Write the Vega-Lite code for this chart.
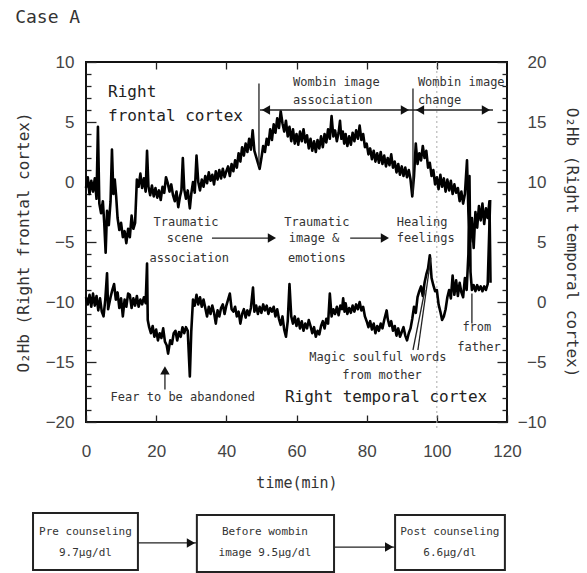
{
"$schema": "https://vega.github.io/schema/vega-lite/v6.json",
"width": 421, "height": 360,
"autosize": {"type": "none"},
"padding": {"left": 86, "top": 62, "right": 80, "bottom": 151},
"background": "white",
"title": {"text": "Case A", "anchor": "start", "frame": "bounds", "font": "DejaVu Sans Mono", "fontSize": 18, "fontWeight": "normal", "color": "#333", "offset": 26},
"config": {
  "view": {"stroke": "#111", "strokeWidth": 2},
  "axis": {"domain": false, "grid": false, "tickColor": "#222", "tickWidth": 1.3, "labelOverlap": false, "labelFlush": false}
},
"datasets": {
"frontal": [
{"t":0,"v":-0.5},{"t":0.5,"v":0.4},{"t":1,"v":-1.0},{"t":1.5,"v":0.1},{"t":2,"v":-0.8},{"t":2.5,"v":0.3},{"t":3,"v":-1.4},{"t":3.4,"v":4.6},{"t":3.8,"v":-1.8},{"t":4.3,"v":-2.6},{"t":4.8,"v":-1.6},{"t":5.2,"v":-3.4},{"t":5.6,"v":-5.9},{"t":6,"v":-2.4},{"t":6.5,"v":-3.6},{"t":7,"v":-1.6},{"t":7.4,"v":2.7},{"t":7.8,"v":-1.0},{"t":8.2,"v":0.2},{"t":8.6,"v":-1.2},{"t":9,"v":-3.0},{"t":9.5,"v":-4.0},{"t":10,"v":-3.4},{"t":10.5,"v":-4.6},{"t":11,"v":-4.1},{"t":11.5,"v":-5.1},{"t":12,"v":-3.9},{"t":12.5,"v":-4.6},{"t":13,"v":-2.8},{"t":13.5,"v":-3.9},{"t":14,"v":-3.4},{"t":14.5,"v":0.2},{"t":15,"v":-0.4},{"t":15.5,"v":0.7},{"t":16,"v":-0.5},{"t":16.5,"v":0.3},{"t":17,"v":-0.8},{"t":17.4,"v":2.6},{"t":17.8,"v":-0.4},{"t":18.3,"v":-1.1},{"t":18.8,"v":-0.3},{"t":19.3,"v":-1.2},{"t":19.8,"v":-0.5},{"t":20.3,"v":-1.3},{"t":20.8,"v":-0.7},{"t":21.3,"v":-1.5},{"t":21.8,"v":-0.4},{"t":22.3,"v":-0.9},{"t":22.8,"v":0.4},{"t":23.3,"v":-0.1},{"t":23.8,"v":-0.8},{"t":24.3,"v":-0.2},{"t":24.8,"v":-1.1},{"t":25.3,"v":-1.6},{"t":25.8,"v":-0.8},{"t":26.3,"v":-2.1},{"t":26.8,"v":-1.2},{"t":27.2,"v":-0.7},{"t":27.6,"v":2.0},{"t":28,"v":-0.6},{"t":28.5,"v":-1.4},{"t":29,"v":-0.7},{"t":29.6,"v":-2.2},{"t":30,"v":-1.0},{"t":30.5,"v":0.0},{"t":31,"v":-0.9},{"t":31.5,"v":2.2},{"t":32,"v":0.0},{"t":32.5,"v":-0.7},{"t":33,"v":0.2},{"t":33.5,"v":-0.4},{"t":34,"v":0.5},{"t":34.5,"v":-0.1},{"t":35,"v":0.8},{"t":35.5,"v":0.1},{"t":36,"v":0.6},{"t":36.5,"v":-0.2},{"t":37,"v":0.9},{"t":37.5,"v":0.2},{"t":38,"v":1.0},{"t":38.5,"v":0.3},{"t":39,"v":1.1},{"t":39.5,"v":0.4},{"t":40,"v":0.9},{"t":40.5,"v":1.3},{"t":41,"v":0.5},{"t":41.5,"v":1.5},{"t":42,"v":0.9},{"t":42.5,"v":1.8},{"t":43,"v":1.2},{"t":43.5,"v":2.4},{"t":44,"v":1.7},{"t":44.5,"v":2.9},{"t":45,"v":2.2},{"t":45.5,"v":3.2},{"t":46,"v":2.5},{"t":46.5,"v":3.6},{"t":47,"v":2.7},{"t":47.5,"v":4.3},{"t":48,"v":2.6},{"t":48.5,"v":2.1},{"t":49,"v":1.6},{"t":49.5,"v":1.1},{"t":50,"v":2.0},{"t":50.5,"v":3.0},{"t":51,"v":2.5},{"t":51.5,"v":3.6},{"t":52,"v":3.1},{"t":52.5,"v":4.4},{"t":53,"v":3.5},{"t":53.5,"v":4.8},{"t":54,"v":4.1},{"t":54.5,"v":5.3},{"t":55,"v":4.5},{"t":55.5,"v":5.9},{"t":56,"v":4.9},{"t":56.5,"v":4.2},{"t":57,"v":5.1},{"t":57.5,"v":3.8},{"t":58,"v":4.6},{"t":58.5,"v":3.4},{"t":59,"v":4.4},{"t":59.5,"v":3.2},{"t":60,"v":4.0},{"t":60.5,"v":3.1},{"t":61,"v":4.2},{"t":61.5,"v":3.4},{"t":62,"v":4.4},{"t":62.5,"v":3.3},{"t":63,"v":3.9},{"t":63.5,"v":2.8},{"t":64,"v":3.6},{"t":64.5,"v":2.6},{"t":65,"v":3.4},{"t":65.5,"v":2.5},{"t":66,"v":3.5},{"t":66.5,"v":2.8},{"t":67,"v":3.8},{"t":67.5,"v":2.9},{"t":68,"v":4.0},{"t":68.5,"v":3.3},{"t":69,"v":4.4},{"t":69.5,"v":3.6},{"t":70,"v":5.5},{"t":70.5,"v":3.8},{"t":71,"v":4.3},{"t":71.5,"v":3.4},{"t":72,"v":4.1},{"t":72.4,"v":5.1},{"t":72.8,"v":3.6},{"t":73.2,"v":4.2},{"t":73.6,"v":3.2},{"t":74,"v":4.0},{"t":74.5,"v":3.0},{"t":75,"v":3.8},{"t":75.5,"v":3.1},{"t":76,"v":4.1},{"t":76.5,"v":3.4},{"t":77,"v":4.3},{"t":77.5,"v":3.6},{"t":78,"v":4.7},{"t":78.5,"v":3.5},{"t":79,"v":4.0},{"t":79.5,"v":2.9},{"t":80,"v":3.2},{"t":80.5,"v":2.3},{"t":81,"v":2.8},{"t":81.5,"v":1.9},{"t":82,"v":2.6},{"t":82.5,"v":1.7},{"t":83,"v":2.4},{"t":83.5,"v":1.6},{"t":84,"v":2.5},{"t":84.5,"v":1.5},{"t":85,"v":2.2},{"t":85.5,"v":1.3},{"t":86,"v":2.0},{"t":86.5,"v":1.4},{"t":87,"v":2.3},{"t":87.5,"v":1.2},{"t":88,"v":1.7},{"t":88.5,"v":0.8},{"t":89,"v":1.5},{"t":89.5,"v":0.6},{"t":90,"v":1.3},{"t":90.5,"v":0.5},{"t":91,"v":1.2},{"t":91.5,"v":0.4},{"t":92,"v":1.0},{"t":92.5,"v":0.2},{"t":93,"v":-1.2},{"t":93.5,"v":0.5},{"t":94,"v":3.2},{"t":94.5,"v":1.5},{"t":95,"v":2.4},{"t":95.5,"v":1.8},{"t":96,"v":3.0},{"t":96.5,"v":2.0},{"t":97,"v":2.6},{"t":97.5,"v":1.2},{"t":98,"v":1.6},{"t":98.5,"v":0.5},{"t":99,"v":1.0},{"t":99.5,"v":-0.2},{"t":100,"v":0.4},{"t":100.5,"v":-0.6},{"t":101,"v":0.6},{"t":101.5,"v":-0.4},{"t":102,"v":0.3},{"t":102.5,"v":-0.8},{"t":103,"v":0.2},{"t":103.5,"v":-0.7},{"t":104,"v":0.1},{"t":104.5,"v":-1.0},{"t":105,"v":-0.2},{"t":105.5,"v":-0.9},{"t":106,"v":-0.5},{"t":106.5,"v":-1.6},{"t":107,"v":-0.8},{"t":107.5,"v":-1.8},{"t":108,"v":-1.0},{"t":108.6,"v":1.8},{"t":109,"v":-2.5},{"t":109.5,"v":-5.0},{"t":110,"v":-3.0},{"t":110.5,"v":-5.5},{"t":111,"v":-2.5},{"t":111.5,"v":-3.8},{"t":112,"v":-2.0},{"t":112.5,"v":-3.2},{"t":113,"v":-1.8},{"t":113.5,"v":-3.5},{"t":114,"v":-2.2},{"t":114.5,"v":-3.0},{"t":115,"v":-1.6},{"t":115.3,"v":-8.4}
],
"temporal": [
{"t":0,"v":0.4},{"t":0.5,"v":-0.2},{"t":1,"v":0.6},{"t":1.5,"v":-0.4},{"t":2,"v":0.7},{"t":2.5,"v":-0.3},{"t":3,"v":0.5},{"t":3.5,"v":-0.7},{"t":4,"v":0.3},{"t":4.5,"v":-0.8},{"t":5,"v":-1.2},{"t":5.5,"v":0.2},{"t":6,"v":2.4},{"t":6.3,"v":-0.6},{"t":7,"v":0.4},{"t":7.5,"v":1.0},{"t":8,"v":1.5},{"t":8.5,"v":0.2},{"t":9,"v":0.8},{"t":9.5,"v":-0.5},{"t":10,"v":0.3},{"t":10.5,"v":-1.2},{"t":11,"v":0.2},{"t":11.5,"v":-0.4},{"t":12,"v":0.7},{"t":12.5,"v":0.6},{"t":13,"v":-0.5},{"t":13.5,"v":0.3},{"t":14,"v":-0.3},{"t":14.5,"v":0.5},{"t":15,"v":-0.4},{"t":15.5,"v":0.2},{"t":16,"v":-0.2},{"t":16.5,"v":0.4},{"t":17,"v":-0.1},{"t":17.4,"v":3.2},{"t":17.6,"v":-1.5},{"t":18,"v":-2.1},{"t":18.5,"v":-2.6},{"t":19,"v":-2.0},{"t":19.5,"v":-2.9},{"t":20,"v":-2.3},{"t":20.5,"v":-3.2},{"t":21,"v":-2.6},{"t":21.5,"v":-3.0},{"t":22,"v":-2.2},{"t":22.5,"v":-3.3},{"t":23,"v":-3.6},{"t":23.4,"v":-4.3},{"t":24,"v":-3.2},{"t":24.5,"v":-3.5},{"t":25,"v":-2.6},{"t":25.5,"v":-2.4},{"t":26,"v":-3.2},{"t":26.5,"v":-2.5},{"t":27,"v":-2.9},{"t":27.5,"v":-2.1},{"t":28,"v":-2.6},{"t":28.5,"v":-2.1},{"t":29,"v":-2.4},{"t":29.6,"v":-6.2},{"t":30,"v":-2.5},{"t":30.5,"v":0.2},{"t":31,"v":-0.3},{"t":31.5,"v":0.6},{"t":32,"v":-0.2},{"t":32.5,"v":0.4},{"t":33,"v":-0.4},{"t":33.5,"v":0.2},{"t":34,"v":-0.5},{"t":34.5,"v":-1.2},{"t":35,"v":-0.4},{"t":35.5,"v":-1.0},{"t":36,"v":-0.3},{"t":36.5,"v":-0.9},{"t":37,"v":-1.8},{"t":37.5,"v":-0.7},{"t":38,"v":-1.2},{"t":38.5,"v":-0.5},{"t":39,"v":-0.2},{"t":39.5,"v":-1.0},{"t":40,"v":-0.3},{"t":41,"v":0.7},{"t":41.5,"v":-0.6},{"t":42,"v":-0.8},{"t":42.5,"v":-0.4},{"t":43,"v":-1.2},{"t":43.5,"v":-0.8},{"t":44,"v":-1.8},{"t":44.5,"v":-1.0},{"t":45,"v":-0.6},{"t":45.5,"v":-1.3},{"t":46,"v":-0.7},{"t":46.5,"v":-1.1},{"t":47,"v":-0.5},{"t":47.6,"v":1.2},{"t":48,"v":-0.8},{"t":48.5,"v":-0.3},{"t":49,"v":-1.0},{"t":49.5,"v":-0.4},{"t":50,"v":-0.9},{"t":50.5,"v":-0.2},{"t":51,"v":-0.7},{"t":51.5,"v":-0.3},{"t":52,"v":-1.0},{"t":52.5,"v":-0.5},{"t":53,"v":-0.8},{"t":53.5,"v":-0.4},{"t":54,"v":-1.2},{"t":54.5,"v":-0.6},{"t":55,"v":-1.4},{"t":55.5,"v":-1.9},{"t":56,"v":-1.2},{"t":56.5,"v":-2.3},{"t":57,"v":-2.9},{"t":57.5,"v":-1.6},{"t":58,"v":1.5},{"t":58.5,"v":-1.2},{"t":59,"v":-1.8},{"t":59.5,"v":-1.2},{"t":60,"v":-2.0},{"t":60.5,"v":-1.4},{"t":61,"v":-2.2},{"t":61.5,"v":-1.6},{"t":62,"v":-2.4},{"t":62.5,"v":-1.8},{"t":63,"v":-2.2},{"t":63.5,"v":-1.5},{"t":64,"v":-2.0},{"t":64.5,"v":-2.6},{"t":65,"v":-2.1},{"t":65.5,"v":-2.9},{"t":66,"v":-2.4},{"t":66.5,"v":-2.7},{"t":67,"v":-2.0},{"t":67.5,"v":-1.6},{"t":68,"v":-2.2},{"t":68.5,"v":-1.4},{"t":69,"v":-1.8},{"t":69.5,"v":0.7},{"t":70,"v":-1.2},{"t":70.5,"v":-0.6},{"t":71,"v":-1.0},{"t":71.5,"v":-0.4},{"t":72,"v":-1.1},{"t":72.5,"v":-0.3},{"t":73,"v":-0.6},{"t":73.3,"v":0.3},{"t":73.7,"v":-0.8},{"t":74,"v":-0.1},{"t":74.5,"v":-1.0},{"t":75,"v":-0.5},{"t":75.5,"v":-0.9},{"t":76,"v":-0.3},{"t":76.5,"v":-0.8},{"t":77,"v":-0.2},{"t":77.5,"v":-0.6},{"t":78,"v":0.0},{"t":78.5,"v":-0.7},{"t":79,"v":-0.4},{"t":79.5,"v":-1.2},{"t":80,"v":-1.6},{"t":80.5,"v":-2.1},{"t":81,"v":-1.6},{"t":81.5,"v":-2.3},{"t":82,"v":-1.8},{"t":82.5,"v":-2.6},{"t":83,"v":-2.0},{"t":83.5,"v":-2.4},{"t":84,"v":-1.8},{"t":84.5,"v":-2.2},{"t":85,"v":-1.5},{"t":85.7,"v":-0.7},{"t":86,"v":-1.4},{"t":86.5,"v":-2.0},{"t":87,"v":-1.6},{"t":87.5,"v":-2.4},{"t":88,"v":-2.0},{"t":88.5,"v":-2.8},{"t":89,"v":-2.2},{"t":89.5,"v":-2.9},{"t":90,"v":-2.5},{"t":90.5,"v":-2.1},{"t":91,"v":-2.8},{"t":91.5,"v":-3.2},{"t":92,"v":-2.6},{"t":92.5,"v":-2.2},{"t":93,"v":-1.4},{"t":93.5,"v":-0.4},{"t":94,"v":-0.9},{"t":94.5,"v":0.4},{"t":95,"v":0.9},{"t":95.5,"v":1.3},{"t":96,"v":0.5},{"t":96.5,"v":1.6},{"t":97,"v":2.3},{"t":97.5,"v":2.8},{"t":98,"v":3.9},{"t":98.5,"v":2.0},{"t":99,"v":1.4},{"t":99.5,"v":0.9},{"t":100,"v":1.0},{"t":100.5,"v":-0.2},{"t":101,"v":-0.8},{"t":101.5,"v":-1.5},{"t":102,"v":-1.2},{"t":102.5,"v":-0.6},{"t":103,"v":0.4},{"t":103.5,"v":1.0},{"t":104,"v":0.3},{"t":104.5,"v":2.2},{"t":105,"v":0.6},{"t":105.5,"v":1.8},{"t":106,"v":0.5},{"t":106.5,"v":1.6},{"t":107,"v":0.8},{"t":107.5,"v":0.4},{"t":108,"v":2.0},{"t":108.5,"v":1.0},{"t":109,"v":4.0},{"t":109.3,"v":10.5},{"t":109.6,"v":2.5},{"t":110,"v":1.0},{"t":110.5,"v":1.4},{"t":111,"v":0.9},{"t":111.5,"v":1.4},{"t":112,"v":1.0},{"t":112.5,"v":1.3},{"t":113,"v":0.9},{"t":113.5,"v":1.3},{"t":114,"v":1.0},{"t":114.5,"v":1.5},{"t":115.2,"v":8.5}
],
"bigText": [
{"t":6.3,"y":7.5,"label":"Right"},
{"t":6.3,"y":5.5,"label":"frontal cortex"},
{"t":56.7,"y":-17.9,"label":"Right temporal cortex"}
],
"smallLeft": [
{"t":59.0,"y":8.33,"label":"Wombin image"},
{"t":59.0,"y":6.83,"label":"association"},
{"t":94.6,"y":8.33,"label":"Wombin image"},
{"t":94.6,"y":6.83,"label":"change"},
{"t":88.6,"y":-3.33,"label":"Healing"},
{"t":88.6,"y":-4.67,"label":"feelings"}
],
"smallCenter": [
{"t":28.5,"y":-3.33,"label":"Traumatic"},
{"t":28.2,"y":-4.67,"label":"scene"},
{"t":29.4,"y":-6.33,"label":"association"},
{"t":65.8,"y":-3.33,"label":"Traumatic"},
{"t":65.0,"y":-4.67,"label":"image &"},
{"t":65.8,"y":-6.33,"label":"emotions"},
{"t":27.6,"y":-17.9,"label":"Fear to be abandoned"},
{"t":83.2,"y":-14.6,"label":"Magic soulful words"},
{"t":84.4,"y":-16.1,"label":"from mother"},
{"t":111.4,"y":-12.1,"label":"from"},
{"t":112.0,"y":-13.75,"label":"father"}
],
"lines": [
{"t1":49.3,"t2":49.3,"y1":8.2,"y2":1.3},
{"t1":93.2,"t2":93.2,"y1":7.8,"y2":-1.0},
{"t1":49.6,"t2":116.0,"y1":6.0,"y2":6.0},
{"t1":35.9,"t2":53.5,"y1":-4.67,"y2":-4.67},
{"t1":75.3,"t2":85.5,"y1":-4.67,"y2":-4.67},
{"t1":22.5,"t2":22.5,"y1":-17.3,"y2":-15.7},
{"t1":93.2,"t2":96.6,"y1":-14.0,"y2":-9.0},
{"t1":94.6,"t2":98.3,"y1":-14.0,"y2":-6.3},
{"t1":110.0,"t2":110.0,"y1":-11.8,"y2":-9.3},
{"t1":14.8,"t2":31.6,"y1":-30.08,"y2":-30.08},
{"t1":70.7,"t2":88.1,"y1":-30.42,"y2":-30.42}
],
"heads": [
{"t":51.3,"y":6.0,"dir":"left"},
{"t":90.9,"y":6.0,"dir":"right"},
{"t":95.2,"y":6.0,"dir":"left"},
{"t":114.0,"y":6.0,"dir":"right"},
{"t":53.0,"y":-4.67,"dir":"right"},
{"t":85.2,"y":-4.67,"dir":"right"},
{"t":22.5,"y":-15.7,"dir":"up"},
{"t":29.9,"y":-30.08,"dir":"right"},
{"t":86.4,"y":-30.42,"dir":"right"}
],
"boxes": [
{"t1":-15.1,"t2":14.8,"y1":-27.58,"y2":-32.33},
{"t1":31.6,"t2":70.7,"y1":-27.75,"y2":-32.5},
{"t1":88.1,"t2":119.4,"y1":-27.75,"y2":-32.33}
],
"boxText": [
{"t":-0.15,"y":-29.17,"label":"Pre counseling"},
{"t":-0.15,"y":-30.92,"label":"9.7μg/dl"},
{"t":51.0,"y":-29.17,"label":"Before wombin"},
{"t":51.0,"y":-30.92,"label":"image 9.5μg/dl"},
{"t":103.7,"y":-29.17,"label":"Post counseling"},
{"t":103.7,"y":-30.92,"label":"6.6μg/dl"}
],
"marker100": [{"t":100,"y1":-20.5,"y2":10}]
},
"resolve": {"scale": {"y": "independent"}, "axis": {"x": "independent", "y": "independent"}},
"layer": [
{
 "data": {"name": "marker100"},
 "mark": {"type": "rule", "color": "#aaa", "strokeWidth": 1, "strokeDash": [2, 3]},
 "encoding": {
  "x": {"field": "t", "type": "quantitative", "scale": {"domain": [0, 120]}, "axis": null},
  "y": {"field": "y1", "type": "quantitative", "scale": {"domain": [-20, 10]}, "axis": null},
  "y2": {"field": "y2"}
 }
},
{
 "data": {"name": "frontal"},
 "mark": {"type": "line", "color": "#000", "strokeWidth": 2.6, "strokeJoin": "round"},
 "encoding": {
  "x": {"field": "t", "type": "quantitative", "scale": {"domain": [0, 120]},
        "axis": {"orient": "bottom", "values": [0, 20, 40, 60, 80, 100, 120], "tickSize": -7, "labelPadding": 28,
                 "labelFont": "Liberation Sans", "labelFontSize": 17, "labelColor": "#444",
                 "title": "time(min)", "titleFont": "DejaVu Sans Mono", "titleFontSize": 15, "titleFontWeight": "normal", "titleColor": "#333", "titlePadding": 16}},
  "y": {"field": "v", "type": "quantitative", "scale": {"domain": [-20, 10]},
        "axis": {"orient": "left", "values": [-20,-19,-18,-17,-16,-15,-14,-13,-12,-11,-10,-9,-8,-7,-6,-5,-4,-3,-2,-1,0,1,2,3,4,5,6,7,8,9,10],
                 "tickSize": {"condition": {"test": "datum.value % 5 === 0", "value": -10}, "value": -5},
                 "labelExpr": "datum.value % 5 === 0 ? datum.label : ''",
                 "labelPadding": 22, "labelFont": "Liberation Sans", "labelFontSize": 17, "labelColor": "#444",
                 "title": "O₂Hb (Right frontal cortex)", "titleFont": "DejaVu Sans Mono", "titleFontSize": 16, "titleFontWeight": "normal", "titleColor": "#333", "titlePadding": 14}}
 }
},
{
 "data": {"name": "temporal"},
 "mark": {"type": "line", "color": "#000", "strokeWidth": 2.6, "strokeJoin": "round"},
 "encoding": {
  "x": {"field": "t", "type": "quantitative", "scale": {"domain": [0, 120]},
        "axis": {"orient": "top", "values": [20, 40, 60, 80, 100], "tickSize": -7, "labels": false, "title": null}},
  "y": {"field": "v", "type": "quantitative", "scale": {"domain": [-10, 20]},
        "axis": {"orient": "right", "values": [-10,-9,-8,-7,-6,-5,-4,-3,-2,-1,0,1,2,3,4,5,6,7,8,9,10,11,12,13,14,15,16,17,18,19,20],
                 "tickSize": {"condition": {"test": "datum.value % 5 === 0", "value": -10}, "value": -5},
                 "labelExpr": "datum.value % 5 === 0 ? datum.label : ''",
                 "labelAlign": "right", "labelPadding": 49, "labelFont": "Liberation Sans", "labelFontSize": 17, "labelColor": "#444",
                 "title": "O₂Hb (Right temporal cortex)", "titleFont": "DejaVu Sans Mono", "titleFontSize": 16, "titleFontWeight": "normal", "titleColor": "#333", "titlePadding": 12}}
 }
},
{
 "data": {"name": "lines"},
 "mark": {"type": "rule", "color": "#222", "strokeWidth": 1.3},
 "encoding": {
  "x": {"field": "t1", "type": "quantitative", "scale": {"domain": [0, 120]}, "axis": null},
  "x2": {"field": "t2"},
  "y": {"field": "y1", "type": "quantitative", "scale": {"domain": [-20, 10]}, "axis": null},
  "y2": {"field": "y2"}
 }
},
{
 "data": {"name": "heads"},
 "mark": {"type": "point", "filled": true, "color": "#111", "size": 90, "opacity": 1},
 "encoding": {
  "x": {"field": "t", "type": "quantitative", "scale": {"domain": [0, 120]}, "axis": null},
  "y": {"field": "y", "type": "quantitative", "scale": {"domain": [-20, 10]}, "axis": null},
  "shape": {"field": "dir", "type": "nominal", "scale": {"domain": ["left", "right", "up"], "range": ["triangle-left", "triangle-right", "triangle-up"]}, "legend": null}
 }
},
{
 "data": {"name": "bigText"},
 "mark": {"type": "text", "align": "left", "baseline": "middle", "font": "DejaVu Sans Mono", "fontSize": 16, "color": "#222"},
 "encoding": {
  "x": {"field": "t", "type": "quantitative", "scale": {"domain": [0, 120]}, "axis": null},
  "y": {"field": "y", "type": "quantitative", "scale": {"domain": [-20, 10]}, "axis": null},
  "text": {"field": "label"}
 }
},
{
 "data": {"name": "smallLeft"},
 "mark": {"type": "text", "align": "left", "baseline": "middle", "font": "DejaVu Sans Mono", "fontSize": 12, "color": "#333"},
 "encoding": {
  "x": {"field": "t", "type": "quantitative", "scale": {"domain": [0, 120]}, "axis": null},
  "y": {"field": "y", "type": "quantitative", "scale": {"domain": [-20, 10]}, "axis": null},
  "text": {"field": "label"}
 }
},
{
 "data": {"name": "smallCenter"},
 "mark": {"type": "text", "align": "center", "baseline": "middle", "font": "DejaVu Sans Mono", "fontSize": 12, "color": "#333"},
 "encoding": {
  "x": {"field": "t", "type": "quantitative", "scale": {"domain": [0, 120]}, "axis": null},
  "y": {"field": "y", "type": "quantitative", "scale": {"domain": [-20, 10]}, "axis": null},
  "text": {"field": "label"}
 }
},
{
 "data": {"name": "boxes"},
 "mark": {"type": "rect", "fill": "white", "stroke": "#222", "strokeWidth": 2},
 "encoding": {
  "x": {"field": "t1", "type": "quantitative", "scale": {"domain": [0, 120]}, "axis": null},
  "x2": {"field": "t2"},
  "y": {"field": "y1", "type": "quantitative", "scale": {"domain": [-20, 10]}, "axis": null},
  "y2": {"field": "y2"}
 }
},
{
 "data": {"name": "boxText"},
 "mark": {"type": "text", "align": "center", "baseline": "middle", "font": "DejaVu Sans Mono", "fontSize": 11, "color": "#333"},
 "encoding": {
  "x": {"field": "t", "type": "quantitative", "scale": {"domain": [0, 120]}, "axis": null},
  "y": {"field": "y", "type": "quantitative", "scale": {"domain": [-20, 10]}, "axis": null},
  "text": {"field": "label"}
 }
}
]
}
